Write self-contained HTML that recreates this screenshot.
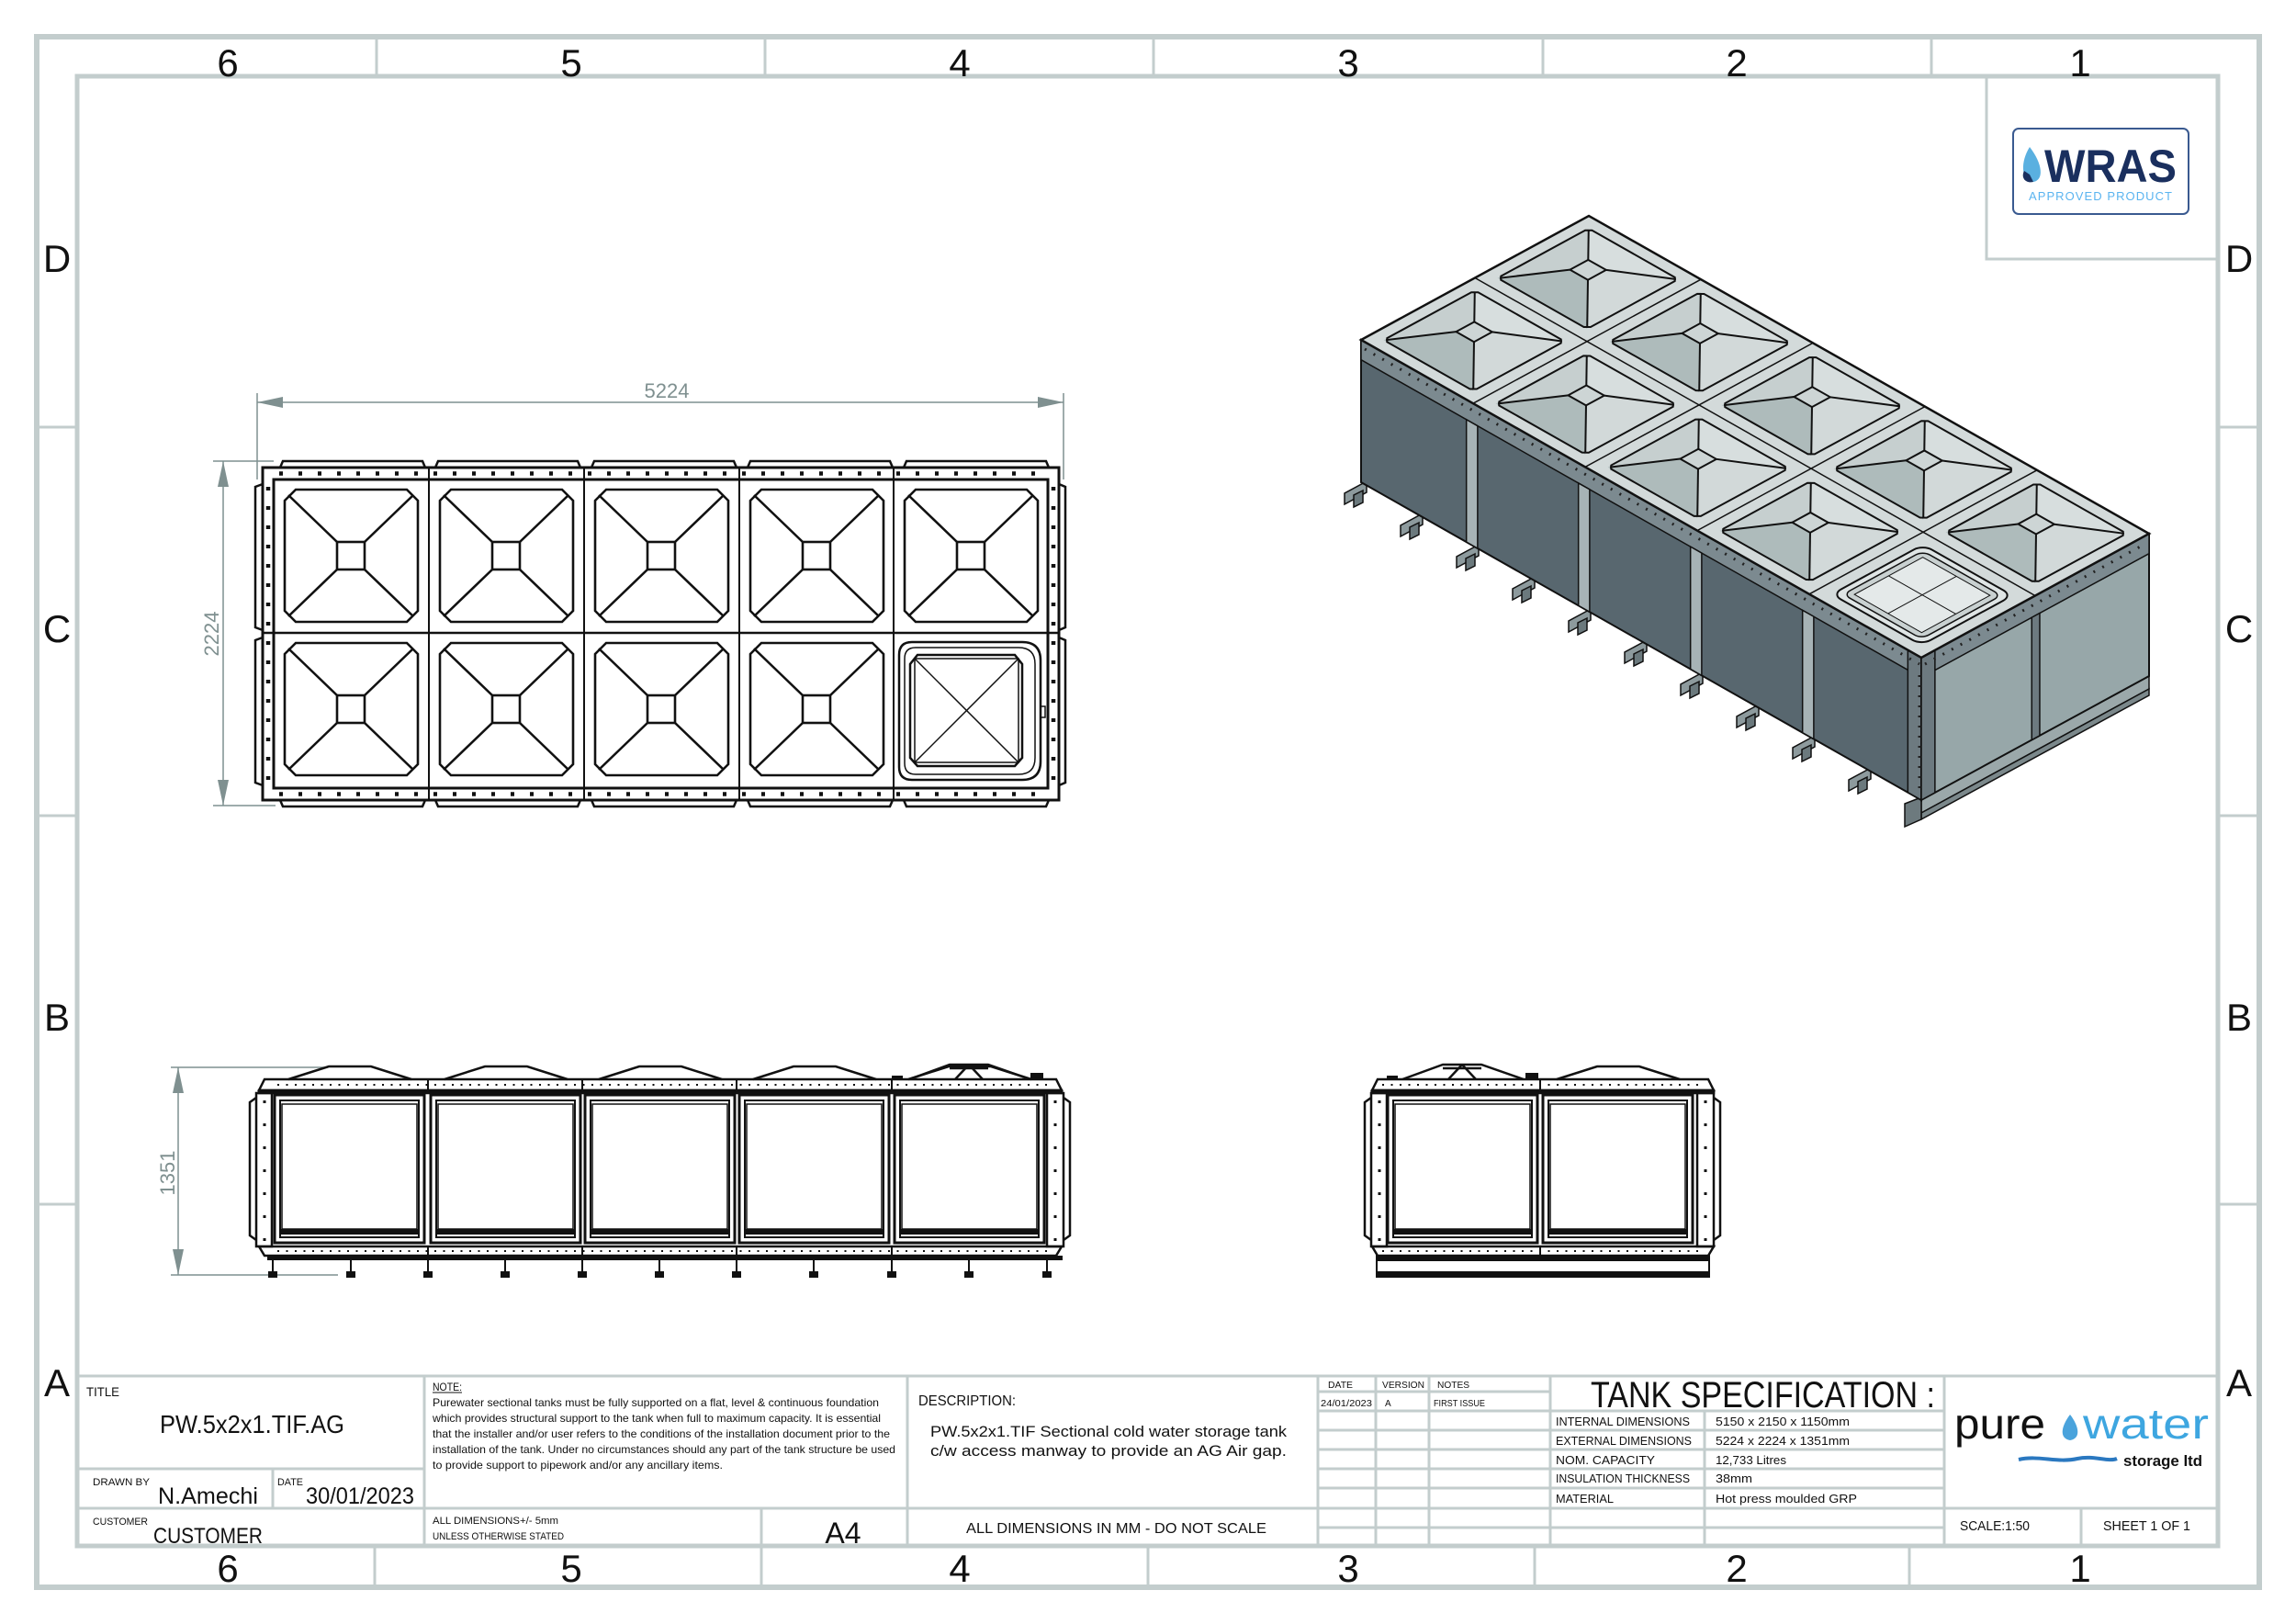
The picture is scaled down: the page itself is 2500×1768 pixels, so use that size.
<!DOCTYPE html>
<html><head><meta charset="utf-8"><style>
html,body{margin:0;padding:0;background:#fff;}
svg{display:block;}
text{font-family:"Liberation Sans",sans-serif;fill:#111;}
</style></head><body>
<svg width="2500" height="1768" viewBox="0 0 2500 1768" xmlns="http://www.w3.org/2000/svg">
<defs>
 <g id="pp" fill="none" stroke="#111" stroke-width="2.6">
  <polygon points="24,11 145,11 157,23 157,143 145,155 24,155 12,143 12,23"/>
  <rect x="69" y="68" width="30" height="30"/>
  <line x1="16" y1="17" x2="69" y2="68"/><line x1="152" y1="17" x2="99" y2="68"/>
  <line x1="16" y1="149" x2="69" y2="98"/><line x1="152" y1="149" x2="99" y2="98"/>
 </g>
 <g id="ep" fill="none" stroke="#111">
  <rect x="3" y="0" width="163" height="161" stroke-width="3"/>
  <rect x="9" y="6" width="151" height="149" stroke-width="2"/>
  <rect x="11" y="10" width="147" height="136" stroke-width="1.5"/>
  <rect x="9" y="146" width="151" height="6" fill="#111" stroke="none"/>
 </g>
 <g id="roof" fill="none" stroke="#111" stroke-width="2.5">
  <polyline points="18,1175 62,1161 108,1161 152,1175"/>
 </g>
 <g id="ip">
  <polygon points="0.1,0.1 0.1,0.9 0.35,0.65 0.35,0.49" fill="#c6cfcf"/>
  <polygon points="0.1,0.9 0.9,0.9 0.51,0.65 0.35,0.65" fill="#d7dede"/>
  <polygon points="0.9,0.9 0.9,0.1 0.51,0.49 0.51,0.65" fill="#d2d9d9"/>
  <polygon points="0.9,0.1 0.1,0.1 0.35,0.49 0.51,0.49" fill="#aebbbb"/>
  <polygon points="0.35,0.49 0.51,0.49 0.51,0.65 0.35,0.65" fill="#cdd5d5"/>
  <g fill="none" stroke="#111" stroke-width="2">
   <polygon points="0.13,0.1 0.87,0.1 0.9,0.13 0.9,0.87 0.87,0.9 0.13,0.9 0.1,0.87 0.1,0.13" vector-effect="non-scaling-stroke"/>
   <polygon points="0.35,0.49 0.51,0.49 0.51,0.65 0.35,0.65" vector-effect="non-scaling-stroke"/>
   <line x1="0.11" y1="0.11" x2="0.35" y2="0.49" vector-effect="non-scaling-stroke"/>
   <line x1="0.89" y1="0.11" x2="0.51" y2="0.49" vector-effect="non-scaling-stroke"/>
   <line x1="0.11" y1="0.89" x2="0.35" y2="0.65" vector-effect="non-scaling-stroke"/>
   <line x1="0.89" y1="0.89" x2="0.51" y2="0.65" vector-effect="non-scaling-stroke"/>
  </g>
 </g>
 <g id="foot" fill="#8d9a9d" stroke="#111" stroke-width="1.5">
  <polygon points="0,-4 -24,9 -24,21 0,8"/>
  <polygon points="-4,6 -14,11 -14,24 -4,19" fill="#6b797d"/>
 </g>
</defs>

<!-- FRAME -->
<g fill="none" stroke="#c3cdcd">
 <rect x="40" y="40" width="2420" height="1688" stroke-width="6"/>
 <rect x="84" y="83" width="2331" height="1600" stroke-width="5"/>
 <g stroke-width="3">
  <line x1="410" y1="40" x2="410" y2="83"/><line x1="833" y1="40" x2="833" y2="83"/>
  <line x1="1256" y1="40" x2="1256" y2="83"/><line x1="1680" y1="40" x2="1680" y2="83"/>
  <line x1="2103" y1="40" x2="2103" y2="83"/>
  <line x1="408" y1="1683" x2="408" y2="1728"/><line x1="829" y1="1683" x2="829" y2="1728"/>
  <line x1="1250" y1="1683" x2="1250" y2="1728"/><line x1="1671" y1="1683" x2="1671" y2="1728"/>
  <line x1="2079" y1="1683" x2="2079" y2="1728"/>
  <line x1="40" y1="465" x2="84" y2="465"/><line x1="40" y1="888" x2="84" y2="888"/><line x1="40" y1="1311" x2="84" y2="1311"/>
  <line x1="2415" y1="465" x2="2460" y2="465"/><line x1="2415" y1="888" x2="2460" y2="888"/><line x1="2415" y1="1311" x2="2460" y2="1311"/>
 </g>
</g>
<g font-size="42" text-anchor="middle">
 <text x="248" y="83">6</text><text x="622" y="83">5</text><text x="1045" y="83">4</text>
 <text x="1468" y="83">3</text><text x="1891" y="83">2</text><text x="2265" y="83">1</text>
 <text x="248" y="1722">6</text><text x="622" y="1722">5</text><text x="1045" y="1722">4</text>
 <text x="1468" y="1722">3</text><text x="1891" y="1722">2</text><text x="2265" y="1722">1</text>
 <text x="62" y="296">D</text><text x="62" y="699">C</text><text x="62" y="1122">B</text><text x="62" y="1520">A</text>
 <text x="2438" y="296">D</text><text x="2438" y="699">C</text><text x="2438" y="1122">B</text><text x="2438" y="1520">A</text>
</g>

<!-- WRAS -->
<polyline points="2163,83 2163,282 2415,282" fill="none" stroke="#c3cdcd" stroke-width="3"/>
<rect x="2192" y="140" width="191" height="93" rx="6" fill="none" stroke="#3a5a90" stroke-width="2"/>
<path d="M2210,160 C2200,176 2200,196 2214,198 C2226,196 2224,178 2210,160Z" fill="#5ab0e0"/>
<path d="M2204,186 C2200,194 2206,200 2214,198 L2210,190Z" fill="#1a2f5e"/>
<text x="2226" y="198" font-size="50" font-weight="bold" style="fill:#1a2f5e" textLength="144" lengthAdjust="spacingAndGlyphs">WRAS</text>
<text x="2209" y="218" font-size="13" style="fill:#5ab4f0" textLength="156" lengthAdjust="spacing">APPROVED PRODUCT</text>

<!-- PLAN VIEW -->
<g stroke="#7f9090" stroke-width="1.5" fill="#7f9090">
 <line x1="280" y1="438" x2="1158" y2="438"/>
 <line x1="280" y1="428" x2="280" y2="522"/><line x1="1158" y1="428" x2="1158" y2="522"/>
 <polygon points="280,438 308,432 308,444" stroke="none"/><polygon points="1158,438 1130,432 1130,444" stroke="none"/>
 <line x1="243" y1="502" x2="243" y2="877"/>
 <line x1="232" y1="502" x2="298" y2="502"/><line x1="232" y1="877" x2="300" y2="877"/>
 <polygon points="243,502 237,530 249,530" stroke="none"/><polygon points="243,877 237,849 249,849" stroke="none"/>
</g>
<text x="726" y="433" font-size="22" text-anchor="middle" style="fill:#7f9090">5224</text>
<text x="0" y="0" font-size="22" text-anchor="middle" style="fill:#7f9090" transform="translate(238,690) rotate(-90)">2224</text>

<g stroke="#111" fill="none">
 <g stroke-width="2.5">
  <polyline points="305,509 308,502 460,502 463,509"/><polyline points="474,509 477,502 629,502 632,509"/>
  <polyline points="644,509 647,502 799,502 802,509"/><polyline points="814,509 817,502 969,502 972,509"/>
  <polyline points="984,509 987,502 1139,502 1142,509"/>
  <polyline points="305,871 308,878 460,878 463,871"/><polyline points="474,871 477,878 629,878 632,871"/>
  <polyline points="644,871 647,878 799,878 802,871"/><polyline points="814,871 817,878 969,878 972,871"/>
  <polyline points="984,871 987,878 1139,878 1142,871"/>
  <polyline points="286,527 278,530 278,683 286,686"/><polyline points="286,694 278,697 278,852 286,855"/>
  <polyline points="1153,527 1160,530 1160,683 1153,686"/><polyline points="1153,694 1160,697 1160,852 1153,855"/>
 </g>
 <rect x="286" y="509" width="867" height="362" stroke-width="3"/>
 <rect x="298" y="522" width="843" height="336" stroke-width="3"/>
 <line x1="286" y1="689" x2="1153" y2="689" stroke-width="2.5"/>
 <g stroke-width="2">
  <line x1="467" y1="509" x2="467" y2="871"/><line x1="636" y1="509" x2="636" y2="871"/>
  <line x1="805" y1="509" x2="805" y2="871"/><line x1="973" y1="509" x2="973" y2="871"/>
 </g>
 <g stroke-width="4.5" stroke-dasharray="4 17">
  <line x1="304" y1="515.5" x2="1140" y2="515.5"/><line x1="304" y1="864.5" x2="1140" y2="864.5"/>
  <line x1="292" y1="530" x2="292" y2="860"/><line x1="1147" y1="530" x2="1147" y2="860"/>
 </g>
</g>
<use href="#pp" x="298" y="522"/><use href="#pp" x="467" y="522"/><use href="#pp" x="636" y="522"/><use href="#pp" x="805" y="522"/><use href="#pp" x="973" y="522"/>
<use href="#pp" x="298" y="689"/><use href="#pp" x="467" y="689"/><use href="#pp" x="636" y="689"/><use href="#pp" x="805" y="689"/>
<g fill="none" stroke="#111" stroke-width="2.5">
 <path d="M993,699 L1113,699 Q1133,699 1133,719 L1133,829 Q1133,849 1113,849 L993,849 Q979,849 979,835 L979,713 Q979,699 993,699Z"/>
 <path d="M997,705 L1109,705 Q1127,705 1127,723 L1127,825 Q1127,843 1109,843 L997,843 Q985,843 985,831 L985,717 Q985,705 997,705Z" stroke-width="1.5"/>
 <polygon points="999,713 1105,713 1113,723 1113,825 1105,834 999,834 991,825 991,723"/>
 <rect x="996" y="717" width="113" height="113" stroke-width="1.5"/>
 <line x1="996" y1="717" x2="1109" y2="830" stroke-width="1.5"/><line x1="1109" y1="717" x2="996" y2="830" stroke-width="1.5"/>
 <rect x="1133" y="769" width="5" height="12" stroke-width="1.5"/>
</g>

<!-- FRONT ELEVATION -->
<g stroke="#7f9090" stroke-width="1.5" fill="#7f9090">
 <line x1="194" y1="1162" x2="194" y2="1388"/>
 <line x1="186" y1="1162" x2="357" y2="1162"/><line x1="186" y1="1388" x2="368" y2="1388"/>
 <polygon points="194,1162 188,1190 200,1190" stroke="none"/><polygon points="194,1388 188,1360 200,1360" stroke="none"/>
</g>
<text x="0" y="0" font-size="22" text-anchor="middle" style="fill:#7f9090" transform="translate(190,1277) rotate(-90)">1351</text>
<g>
 <use href="#roof" x="296"/><use href="#roof" x="466"/><use href="#roof" x="634"/><use href="#roof" x="802"/><use href="#roof" x="971"/>
 <g fill="none" stroke="#111" stroke-width="2.5">
  <polyline points="990,1175 1034,1159 1076,1159 1122,1175"/><line x1="1034" y1="1163" x2="1076" y2="1163"/>
  <line x1="1055" y1="1159" x2="1040" y2="1175"/><line x1="1055" y1="1159" x2="1070" y2="1175"/>
 </g>
 <rect x="971" y="1171" width="12" height="4" fill="#111"/><rect x="1122" y="1168" width="14" height="7" fill="#111"/>
 <g fill="none" stroke="#111" stroke-width="2.5">
  <polygon points="288,1175 1150,1175 1156,1187 282,1187"/>
  <rect x="282" y="1187" width="874" height="3" fill="#111"/>
  <polygon points="282,1357 1156,1357 1150,1367 288,1367"/>
  <polyline points="279,1195 272,1200 272,1345 279,1350"/><polyline points="1158,1195 1165,1200 1165,1345 1158,1350"/>
  <rect x="279" y="1190" width="17" height="167"/><rect x="1140" y="1190" width="18" height="167"/>
 </g>
 <g stroke="#111" stroke-width="2">
  <line x1="466" y1="1175" x2="466" y2="1187"/><line x1="634" y1="1175" x2="634" y2="1187"/><line x1="802" y1="1175" x2="802" y2="1187"/><line x1="971" y1="1175" x2="971" y2="1187"/>
  <line x1="466" y1="1357" x2="466" y2="1367"/><line x1="634" y1="1357" x2="634" y2="1367"/><line x1="802" y1="1357" x2="802" y2="1367"/><line x1="971" y1="1357" x2="971" y2="1367"/>
 </g>
 <g stroke="#111" stroke-width="2" stroke-dasharray="2 7.5">
  <line x1="302" y1="1181" x2="1140" y2="1181"/><line x1="302" y1="1362" x2="1140" y2="1362"/>
 </g>
 <g stroke="#111" stroke-width="3" stroke-dasharray="3 22">
  <line x1="288" y1="1198" x2="288" y2="1355"/><line x1="1149" y1="1198" x2="1149" y2="1355"/>
 </g>
 <use href="#ep" x="296" y="1192"/><use href="#ep" x="466" y="1192"/><use href="#ep" x="634" y="1192"/><use href="#ep" x="802" y="1192"/><use href="#ep" x="971" y="1192"/>
 <rect x="291" y="1367" width="866" height="5" fill="#111"/>
 <g stroke="#111" stroke-width="2" fill="#111">
  <line x1="297" y1="1372" x2="297" y2="1386"/><line x1="382" y1="1372" x2="382" y2="1386"/><line x1="466" y1="1372" x2="466" y2="1386"/><line x1="550" y1="1372" x2="550" y2="1386"/><line x1="634" y1="1372" x2="634" y2="1386"/><line x1="718" y1="1372" x2="718" y2="1386"/><line x1="802" y1="1372" x2="802" y2="1386"/><line x1="886" y1="1372" x2="886" y2="1386"/><line x1="971" y1="1372" x2="971" y2="1386"/><line x1="1055" y1="1372" x2="1055" y2="1386"/><line x1="1140" y1="1372" x2="1140" y2="1386"/>
  <rect x="293" y="1385" width="8" height="5"/><rect x="378" y="1385" width="8" height="5"/><rect x="462" y="1385" width="8" height="5"/><rect x="546" y="1385" width="8" height="5"/><rect x="630" y="1385" width="8" height="5"/><rect x="714" y="1385" width="8" height="5"/><rect x="798" y="1385" width="8" height="5"/><rect x="882" y="1385" width="8" height="5"/><rect x="967" y="1385" width="8" height="5"/><rect x="1051" y="1385" width="8" height="5"/><rect x="1136" y="1385" width="8" height="5"/>
 </g>
</g>

<!-- SIDE ELEVATION -->
<g>
 <g fill="none" stroke="#111" stroke-width="2.5">
  <polyline points="1527,1175 1571,1159 1613,1159 1659,1175"/><line x1="1571" y1="1163" x2="1613" y2="1163"/>
  <line x1="1592" y1="1159" x2="1577" y2="1175"/><line x1="1592" y1="1159" x2="1607" y2="1175"/>
  <use href="#roof" x="1677"/>
  <polygon points="1500,1175 1860,1175 1866,1187 1494,1187"/>
  <rect x="1494" y="1187" width="372" height="3" fill="#111"/>
  <polygon points="1494,1357 1866,1357 1860,1367 1500,1367"/>
  <polyline points="1493,1195 1486,1200 1486,1345 1493,1350"/><polyline points="1866,1195 1873,1200 1873,1345 1866,1350"/>
  <rect x="1493" y="1190" width="17" height="167"/><rect x="1848" y="1190" width="18" height="167"/>
 </g>
 <rect x="1510" y="1171" width="12" height="4" fill="#111"/><rect x="1661" y="1168" width="14" height="7" fill="#111"/>
 <line x1="1677" y1="1175" x2="1677" y2="1187" stroke="#111" stroke-width="2"/><line x1="1677" y1="1357" x2="1677" y2="1367" stroke="#111" stroke-width="2"/>
 <g stroke="#111" stroke-width="2" stroke-dasharray="2 7.5">
  <line x1="1505" y1="1181" x2="1850" y2="1181"/><line x1="1505" y1="1362" x2="1850" y2="1362"/>
 </g>
 <g stroke="#111" stroke-width="3" stroke-dasharray="3 22">
  <line x1="1502" y1="1198" x2="1502" y2="1355"/><line x1="1857" y1="1198" x2="1857" y2="1355"/>
 </g>
 <use href="#ep" x="1508" y="1192"/><use href="#ep" x="1677" y="1192"/>
 <rect x="1499" y="1367" width="362" height="23" fill="#fff" stroke="#111" stroke-width="2"/>
 <rect x="1499" y="1367" width="362" height="6" fill="#111"/>
 <rect x="1499" y="1384" width="362" height="6" fill="#111"/>
</g>

<!-- ISOMETRIC -->
<g>
 <use href="#foot" x="1488" y="528"/><use href="#foot" x="1549" y="563"/><use href="#foot" x="1610" y="597"/><use href="#foot" x="1671" y="632"/><use href="#foot" x="1732" y="667"/><use href="#foot" x="1793" y="701"/><use href="#foot" x="1854" y="736"/><use href="#foot" x="1915" y="771"/><use href="#foot" x="1976" y="805"/><use href="#foot" x="2037" y="840"/>
 <polygon points="2092,868 2340,733 2340,750 2092,885" fill="#9ba8aa" stroke="#111" stroke-width="1.5"/>
 <polygon points="2092,885 2340,750 2340,757 2092,892" fill="#7b888b" stroke="#111" stroke-width="1.5"/>
 <polygon points="2074,875 2092,868 2092,892 2074,900" fill="#6d7a7e" stroke="#111" stroke-width="1.5"/>
 <g transform="matrix(122,69.2,0,155,1482,370)">
  <rect x="0" y="0" width="5" height="1" fill="#58676f" stroke="#111" stroke-width="2" vector-effect="non-scaling-stroke"/>
  <rect x="0" y="0" width="5" height="0.14" fill="#7c8a90" stroke="#111" stroke-width="1.5" vector-effect="non-scaling-stroke"/>
  <g fill="#a7b3b6" stroke="#111" stroke-width="1.5">
   <rect x="0.94" y="0.14" width="0.1" height="0.86" vector-effect="non-scaling-stroke"/>
   <rect x="1.94" y="0.14" width="0.1" height="0.86" vector-effect="non-scaling-stroke"/>
   <rect x="2.94" y="0.14" width="0.1" height="0.86" vector-effect="non-scaling-stroke"/>
   <rect x="3.94" y="0.14" width="0.1" height="0.86" vector-effect="non-scaling-stroke"/>
   <rect x="4.88" y="0" width="0.12" height="1" fill="#6d7a80" vector-effect="non-scaling-stroke"/>
  </g>
 </g>
 <g transform="matrix(124,-67.5,0,155,2092,716)">
  <rect x="0" y="0" width="2" height="1" fill="#97a7a9" stroke="#111" stroke-width="2" vector-effect="non-scaling-stroke"/>
  <rect x="0" y="0" width="2" height="0.14" fill="#7c8a90" stroke="#111" stroke-width="1.5" vector-effect="non-scaling-stroke"/>
  <rect x="0" y="0" width="0.12" height="1" fill="#6d7a80" stroke="#111" stroke-width="1.5" vector-effect="non-scaling-stroke"/>
  <rect x="0.97" y="0.14" width="0.07" height="0.86" fill="#6d7a80" stroke="#111" stroke-width="1.5" vector-effect="non-scaling-stroke"/>
 </g>
 <g transform="matrix(122,69.2,124,-67.5,1482,370)">
  <rect x="0" y="0" width="5" height="2" fill="#d3dada" stroke="#111" stroke-width="2.5" vector-effect="non-scaling-stroke"/>
  <g stroke="#111" stroke-width="1.5">
   <line x1="1" y1="0" x2="1" y2="2" vector-effect="non-scaling-stroke"/><line x1="2" y1="0" x2="2" y2="2" vector-effect="non-scaling-stroke"/>
   <line x1="3" y1="0" x2="3" y2="2" vector-effect="non-scaling-stroke"/><line x1="4" y1="0" x2="4" y2="2" vector-effect="non-scaling-stroke"/>
   <line x1="0" y1="1" x2="5" y2="1" vector-effect="non-scaling-stroke"/>
  </g>
  <use href="#ip" x="0" y="0"/><use href="#ip" x="1" y="0"/><use href="#ip" x="2" y="0"/><use href="#ip" x="3" y="0"/>
  <use href="#ip" x="0" y="1"/><use href="#ip" x="1" y="1"/><use href="#ip" x="2" y="1"/><use href="#ip" x="3" y="1"/><use href="#ip" x="4" y="1"/>
  <g transform="translate(4,0)">
   <rect x="0.1" y="0.1" width="0.8" height="0.8" rx="0.08" fill="#dfe5e5" stroke="#111" stroke-width="2" vector-effect="non-scaling-stroke"/>
   <rect x="0.15" y="0.15" width="0.7" height="0.7" rx="0.06" fill="#c9d1d1" stroke="#111" stroke-width="1.5" vector-effect="non-scaling-stroke"/>
   <polygon points="0.2,0.2 0.8,0.2 0.8,0.8 0.2,0.8" fill="#e4e9e9" stroke="#111" stroke-width="1" vector-effect="non-scaling-stroke"/>
   <g stroke="#111" stroke-width="1">
    <line x1="0.2" y1="0.5" x2="0.8" y2="0.5" vector-effect="non-scaling-stroke"/><line x1="0.5" y1="0.2" x2="0.5" y2="0.8" vector-effect="non-scaling-stroke"/>
   </g>
  </g>
 </g>
 <g stroke="#222" stroke-width="3" stroke-dasharray="2 9">
  <line x1="1486" y1="380" x2="2090" y2="723"/>
  <line x1="2096" y1="723" x2="2336" y2="592"/>
  <line x1="2090" y1="735" x2="2090" y2="865"/>
 </g>
</g>

<!-- TITLE BLOCK -->
<g fill="none" stroke="#c3cdcd" stroke-width="3">
 <line x1="84" y1="1498" x2="2415" y2="1498"/>
 <line x1="462" y1="1498" x2="462" y2="1683"/>
 <line x1="84" y1="1599" x2="462" y2="1599"/>
 <line x1="297" y1="1599" x2="297" y2="1642"/>
 <line x1="84" y1="1642" x2="1435" y2="1642"/>
 <line x1="988" y1="1498" x2="988" y2="1683"/>
 <line x1="829" y1="1642" x2="829" y2="1683"/>
 <line x1="1435" y1="1498" x2="1435" y2="1683"/>
 <line x1="1498" y1="1498" x2="1498" y2="1683"/>
 <line x1="1556" y1="1498" x2="1556" y2="1683"/>
 <line x1="1688" y1="1498" x2="1688" y2="1683"/>
 <line x1="1435" y1="1515" x2="1688" y2="1515"/>
 <line x1="1435" y1="1536" x2="2117" y2="1536"/>
 <line x1="1435" y1="1557" x2="2117" y2="1557"/>
 <line x1="1435" y1="1578" x2="2117" y2="1578"/>
 <line x1="1435" y1="1599" x2="2117" y2="1599"/>
 <line x1="1435" y1="1620" x2="2117" y2="1620"/>
 <line x1="1435" y1="1642" x2="2415" y2="1642"/>
 <line x1="1435" y1="1663" x2="2117" y2="1663"/>
 <line x1="1856" y1="1536" x2="1856" y2="1683"/>
 <line x1="2117" y1="1498" x2="2117" y2="1683"/>
 <line x1="2266" y1="1642" x2="2266" y2="1683"/>
</g>
<text x="94" y="1520" font-size="14" textLength="36" lengthAdjust="spacingAndGlyphs">TITLE</text>
<text x="174" y="1560" font-size="28" textLength="201" lengthAdjust="spacingAndGlyphs">PW.5x2x1.TIF.AG</text>
<text x="101" y="1617" font-size="11" textLength="62" lengthAdjust="spacingAndGlyphs">DRAWN BY</text>
<text x="172" y="1637" font-size="25" textLength="109" lengthAdjust="spacingAndGlyphs">N.Amechi</text>
<text x="302" y="1617" font-size="11" textLength="28" lengthAdjust="spacingAndGlyphs">DATE</text>
<text x="333" y="1637" font-size="25" textLength="118" lengthAdjust="spacingAndGlyphs">30/01/2023</text>
<text x="101" y="1660" font-size="11" textLength="60" lengthAdjust="spacingAndGlyphs">CUSTOMER</text>
<text x="167" y="1680" font-size="24" textLength="119" lengthAdjust="spacingAndGlyphs">CUSTOMER</text>
<text x="471" y="1514" font-size="12" textLength="32" lengthAdjust="spacingAndGlyphs">NOTE:</text>
<line x1="471" y1="1516" x2="503" y2="1516" stroke="#111" stroke-width="1"/>
<g font-size="12">
 <text x="471" y="1531" textLength="486" lengthAdjust="spacingAndGlyphs">Purewater sectional tanks must be fully supported on a flat, level &amp; continuous foundation</text>
 <text x="471" y="1548" textLength="488" lengthAdjust="spacingAndGlyphs">which provides structural support to the tank when full to maximum capacity. It is essential</text>
 <text x="471" y="1565" textLength="498" lengthAdjust="spacingAndGlyphs">that the installer and/or user refers to the conditions of the installation document prior to the</text>
 <text x="471" y="1582" textLength="504" lengthAdjust="spacingAndGlyphs">installation of the tank. Under no circumstances should any part of the tank structure be used</text>
 <text x="471" y="1599" textLength="316" lengthAdjust="spacingAndGlyphs">to provide support to pipework and/or any ancillary items.</text>
</g>
<text x="471" y="1659" font-size="11" textLength="137" lengthAdjust="spacingAndGlyphs">ALL DIMENSIONS+/- 5mm</text>
<text x="471" y="1676" font-size="11" textLength="143" lengthAdjust="spacingAndGlyphs">UNLESS OTHERWISE STATED</text>
<text x="918" y="1680" font-size="32" text-anchor="middle">A4</text>
<text x="1000" y="1530" font-size="16" textLength="106" lengthAdjust="spacingAndGlyphs">DESCRIPTION:</text>
<text x="1013" y="1564" font-size="17" textLength="388" lengthAdjust="spacingAndGlyphs">PW.5x2x1.TIF Sectional cold water storage tank</text>
<text x="1013" y="1585" font-size="17" textLength="388" lengthAdjust="spacingAndGlyphs">c/w access manway to provide an AG Air gap.</text>
<text x="1052" y="1669" font-size="16" textLength="327" lengthAdjust="spacingAndGlyphs">ALL DIMENSIONS IN MM - DO NOT SCALE</text>
<g font-size="10">
 <text x="1446" y="1511" textLength="27" lengthAdjust="spacingAndGlyphs">DATE</text>
 <text x="1505" y="1511" textLength="46" lengthAdjust="spacingAndGlyphs">VERSION</text>
 <text x="1565" y="1511" textLength="35" lengthAdjust="spacingAndGlyphs">NOTES</text>
 <text x="1438" y="1531" textLength="56" lengthAdjust="spacingAndGlyphs">24/01/2023</text>
 <text x="1508" y="1531">A</text>
 <text x="1561" y="1531" textLength="56" lengthAdjust="spacingAndGlyphs">FIRST ISSUE</text>
</g>
<text x="1732" y="1532" font-size="40" textLength="375" lengthAdjust="spacingAndGlyphs">TANK SPECIFICATION :</text>
<g font-size="13">
 <text x="1694" y="1552" textLength="146" lengthAdjust="spacingAndGlyphs">INTERNAL DIMENSIONS</text>
 <text x="1694" y="1573" textLength="148" lengthAdjust="spacingAndGlyphs">EXTERNAL DIMENSIONS</text>
 <text x="1694" y="1594" textLength="108" lengthAdjust="spacingAndGlyphs">NOM. CAPACITY</text>
 <text x="1694" y="1614" textLength="146" lengthAdjust="spacingAndGlyphs">INSULATION THICKNESS</text>
 <text x="1694" y="1636" textLength="63" lengthAdjust="spacingAndGlyphs">MATERIAL</text>
 <text x="1868" y="1552" textLength="146" lengthAdjust="spacingAndGlyphs">5150 x 2150 x 1150mm</text>
 <text x="1868" y="1573" textLength="146" lengthAdjust="spacingAndGlyphs">5224 x 2224 x 1351mm</text>
 <text x="1868" y="1594" textLength="77" lengthAdjust="spacingAndGlyphs">12,733 Litres</text>
 <text x="1868" y="1614" textLength="40" lengthAdjust="spacingAndGlyphs">38mm</text>
 <text x="1868" y="1636" textLength="154" lengthAdjust="spacingAndGlyphs">Hot press moulded GRP</text>
</g>
<text x="2128" y="1566" font-size="46" textLength="99" lengthAdjust="spacingAndGlyphs">pure</text>
<path d="M2254,1540 C2244,1553 2242,1566 2254,1568 C2266,1566 2264,1553 2254,1540Z" fill="#4aa3dc"/>
<text x="2268" y="1566" font-size="46" style="fill:#3ea6e0" textLength="137" lengthAdjust="spacingAndGlyphs">water</text>
<path d="M2198,1589 C2220,1584 2240,1593 2262,1588 C2280,1584 2295,1592 2305,1588" fill="none" stroke="#2a78c0" stroke-width="4"/>
<text x="2312" y="1596" font-size="17" font-weight="bold" textLength="86" lengthAdjust="spacingAndGlyphs">storage ltd</text>
<text x="2134" y="1666" font-size="15" textLength="76" lengthAdjust="spacingAndGlyphs">SCALE:1:50</text>
<text x="2290" y="1666" font-size="15" textLength="95" lengthAdjust="spacingAndGlyphs">SHEET 1 OF 1</text>
</svg>
</body></html>
